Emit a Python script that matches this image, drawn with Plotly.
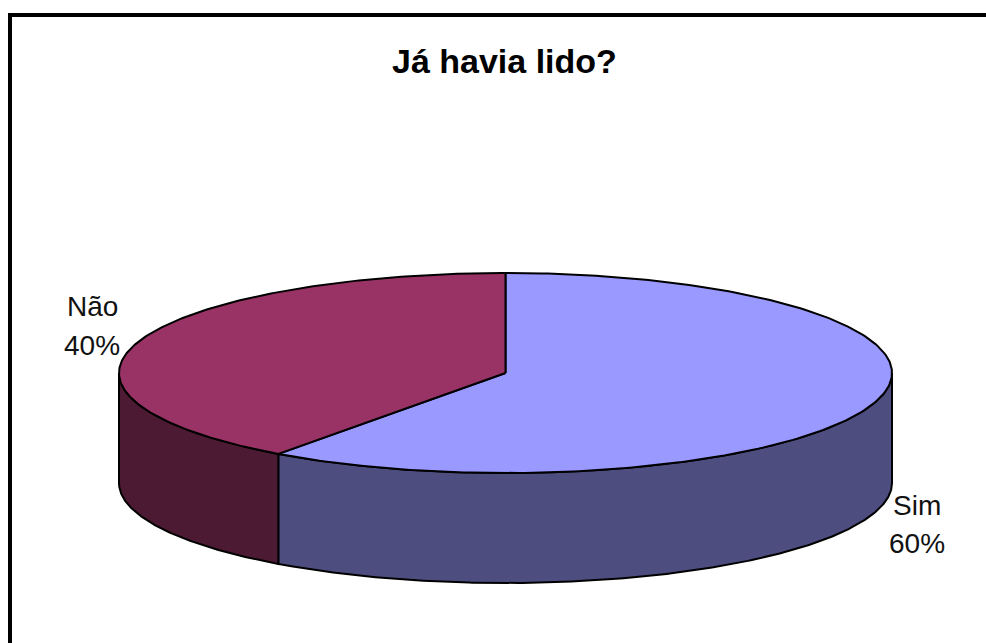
import numpy as np
import plotly.graph_objects as go

# Survey answers and their shares (percent)
categories = ["Sim", "Não"]
shares = [60, 40]
top_colors = ["#9999FF", "#993366"]
side_colors = ["#4D4D80", "#4D1A33"]
title_text = "Já havia lido?"

W, H = 986, 643
# Pie geometry in pixel space (axes are mapped 1:1 onto the page)
CX, CY = 505.5, 373.0
RX, RY = 386.5, 100.0
DEPTH = 110.0
START = 90.0  # first slice starts at 12 o'clock and runs clockwise


def rim(theta_deg, dz=0.0):
    t = np.radians(theta_deg)
    return CX + RX * np.cos(t), CY - RY * np.sin(t) + dz


def arc(a, b, dz=0.0, n=240):
    th = np.linspace(a, b, n)
    return rim(th, dz)


fig = go.Figure()

# Angular spans of each slice (degrees, counter-clockwise math convention)
total = float(sum(shares))
spans = []
cur = START
for s in shares:
    sweep = 360.0 * s / total
    spans.append((cur - sweep, cur))
    cur -= sweep

# Side walls: only the front half (180..360 deg) of the rim is visible
for (a, b), col in zip(spans, side_colors):
    for k in (-2, -1, 0, 1):
        lo, hi = 180 + 360 * k, 360 + 360 * k
        s0, s1 = max(a, lo), min(b, hi)
        if s1 - s0 <= 1e-9:
            continue
        xt, yt = arc(s0, s1)
        xb, yb = arc(s1, s0, DEPTH)
        xs = np.concatenate([xt, xb, xt[:1]])
        ys = np.concatenate([yt, yb, yt[:1]])
        fig.add_trace(go.Scatter(
            x=xs, y=ys, mode="lines", fill="toself", fillcolor=col,
            line=dict(color="black", width=2), hoverinfo="skip",
            showlegend=False))

# Top faces
for (a, b), col in zip(spans, top_colors):
    xa, ya = arc(a, b)
    xs = np.concatenate([[CX], xa, [CX]])
    ys = np.concatenate([[CY], ya, [CY]])
    fig.add_trace(go.Scatter(
        x=xs, y=ys, mode="lines", fill="toself", fillcolor=col,
        line=dict(color="black", width=2), hoverinfo="skip",
        showlegend=False))

font_family = "Arial, Liberation Sans, sans-serif"
annotations = [
    dict(x=504, y=61, text=f"<b>{title_text}</b>", showarrow=False,
         font=dict(family=font_family, size=34, color="black"),
         xanchor="center", yanchor="middle"),
]

# Category labels with percentages
label_pos = {"Não": (92, 306, 345), "Sim": (917, 505, 543)}
for cat, s in zip(categories, shares):
    lx, l1, l2 = label_pos[cat]
    for txt, ly in ((cat, l1), (f"{round(100 * s / total)}%", l2)):
        annotations.append(dict(
            x=lx, y=ly, text=txt, showarrow=False,
            font=dict(family=font_family, size=28, color="#111111"),
            xanchor="center", yanchor="middle"))

fig.update_layout(
    width=W, height=H,
    margin=dict(l=0, r=0, t=0, b=0),
    paper_bgcolor="white", plot_bgcolor="white",
    xaxis=dict(range=[0, W], visible=False, fixedrange=True),
    yaxis=dict(range=[H, 0], visible=False, fixedrange=True),
    annotations=annotations,
    shapes=[dict(type="rect", xref="x", yref="y", x0=10, y0=15,
                 x1=W + 40, y1=H + 40,
                 line=dict(color="black", width=4))],
    showlegend=False,
)

fig.write_html("out.html")
